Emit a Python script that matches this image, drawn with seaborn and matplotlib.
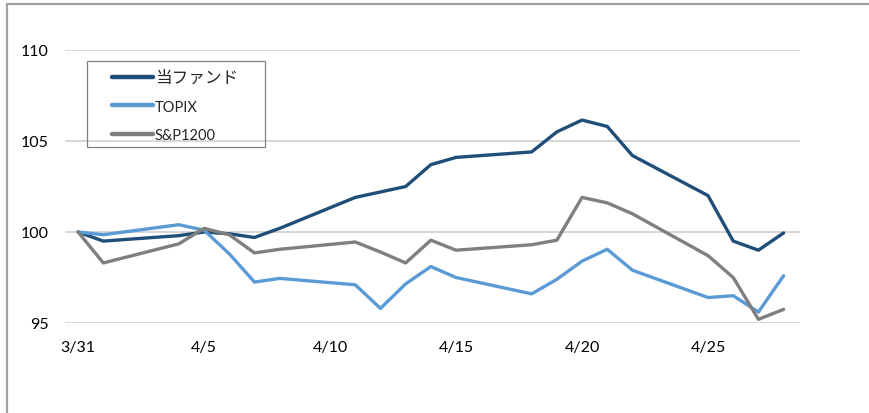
import pandas as pd
import matplotlib
matplotlib.use('Agg')
import matplotlib.pyplot as plt
import matplotlib.dates as mdates
from matplotlib.lines import Line2D
from matplotlib.patches import Rectangle
import seaborn as sns

# データ（3/31 = 100 として指数化）
dates = ['2022-03-31', '2022-04-01', '2022-04-04', '2022-04-05', '2022-04-06',
         '2022-04-07', '2022-04-08', '2022-04-11', '2022-04-12', '2022-04-13',
         '2022-04-14', '2022-04-15', '2022-04-18', '2022-04-19', '2022-04-20',
         '2022-04-21', '2022-04-22', '2022-04-25', '2022-04-26', '2022-04-27',
         '2022-04-28']
fund = [100.0, 99.5, 99.8, 100.0, 99.9, 99.7, 100.2, 101.9, 102.2, 102.5,
        103.7, 104.1, 104.4, 105.5, 106.15, 105.8, 104.2, 102.0, 99.5, 99.0, 99.95]
topix = [100.0, 99.85, 100.4, 100.1, 98.8, 97.25, 97.45, 97.1, 95.8, 97.15,
         98.1, 97.5, 96.6, 97.4, 98.4, 99.05, 97.9, 96.4, 96.5, 95.6, 97.6]
sp1200 = [100.0, 98.3, 99.35, 100.2, 99.85, 98.85, 99.05, 99.45, 98.9, 98.3,
          99.55, 99.0, 99.3, 99.55, 101.9, 101.6, 101.0, 98.7, 97.5, 95.2, 95.75]
series_names = ['当ファンド', 'TOPIX', 'S&P1200']
colors = ['#1F4E79', '#5B9BD5', '#7F7F7F']
tick_dates = ['2022-03-31', '2022-04-05', '2022-04-10', '2022-04-15', '2022-04-20', '2022-04-25']
y_ticks = [95, 100, 105, 110]

df = pd.DataFrame({'Date': pd.to_datetime(dates),
                   series_names[0]: fund,
                   series_names[1]: topix,
                   series_names[2]: sp1200})
df_long = df.melt(id_vars='Date', var_name='Series', value_name='Value')

sns.set_style('white')
plt.rcParams['font.family'] = ['Lato', 'Noto Sans CJK JP', 'DejaVu Sans']

W, H = 869, 414
fig = plt.figure(figsize=(W / 100, H / 100), dpi=100)
ax = fig.add_axes([65 / W, 1 - 324 / H, 735 / W, 273 / H])

sns.lineplot(data=df_long, x='Date', y='Value', hue='Series',
             hue_order=series_names, palette=colors, linewidth=2.4, ax=ax)

start = pd.Timestamp('2022-03-31')
ax.set_xlim(start - pd.Timedelta(days=0.52), start + pd.Timedelta(days=28.65))
ax.set_ylim(95, 110)
ax.set_yticks(y_ticks)
ax.set_xticks(pd.to_datetime(tick_dates))
ax.xaxis.set_major_formatter(plt.FuncFormatter(
    lambda v, p: f"{mdates.num2date(v).month}/{mdates.num2date(v).day}"))
ax.tick_params(axis='both', length=0, labelsize=11.5, colors='black')
ax.tick_params(axis='y', pad=12)
ax.tick_params(axis='x', pad=12)
ax.grid(axis='y', color='#D0D0D0', linewidth=1.2)
ax.set_axisbelow(True)
for s in ax.spines.values():
    s.set_visible(False)
ax.set_xlabel('')
ax.set_ylabel('')

# 凡例（枠は別に描く）
leg = ax.legend(loc='upper left', bbox_to_anchor=(112 / W, 1 - 70 / H),
                bbox_transform=fig.transFigure, fontsize=10.5, frameon=False,
                handlelength=2.8, handletextpad=0.15, labelspacing=1.0,
                borderpad=0, borderaxespad=0)
leg.get_texts()[0].set_fontsize(12)
for line in leg.get_lines():
    line.set_linewidth(3.2)
fig.add_artist(Rectangle((87 / W, 1 - 148 / H), 178 / W, 86 / H,
                         transform=fig.transFigure, fill=False,
                         edgecolor='#808080', linewidth=0.9))

# 外枠（左・上）
fig.add_artist(Line2D([7 / W, 7 / W], [0, 1 - 5 / H], color='#A0A0A0', linewidth=1.6))
fig.add_artist(Line2D([7 / W, 1], [1 - 5 / H, 1 - 5 / H], color='#A0A0A0', linewidth=1.6))

plt.savefig('out.png', dpi=100)
